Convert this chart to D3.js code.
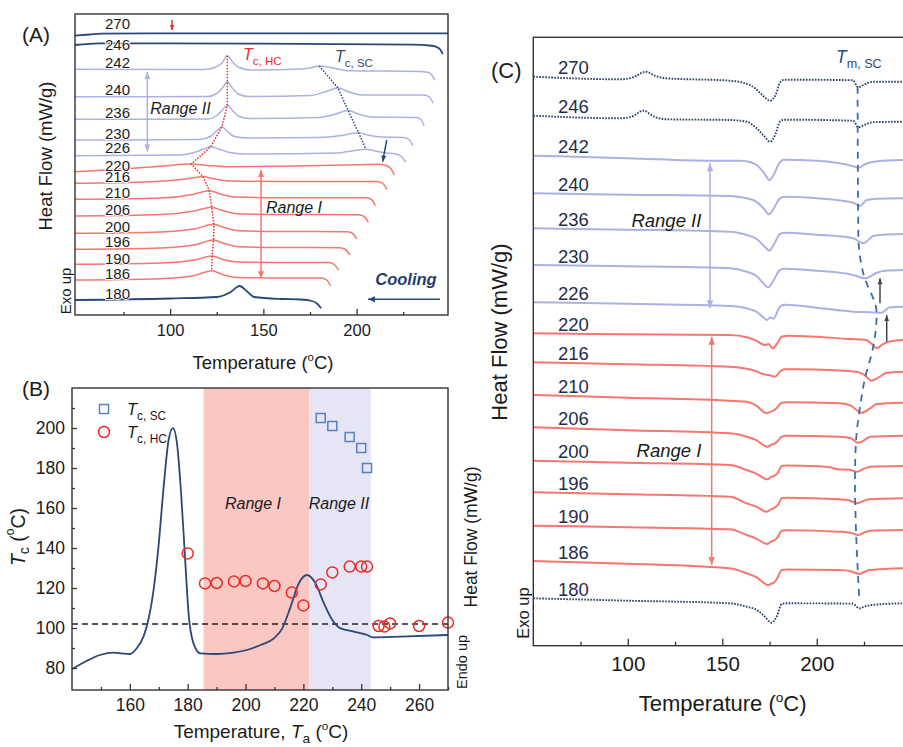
<!DOCTYPE html>
<html>
<head>
<meta charset="utf-8">
<script src="https://cdn.jsdelivr.net/npm/d3@7"></script>
<style>
  body { margin: 0; background: #fff; }
  svg text { font-family: "Liberation Sans", Arial, sans-serif; }
</style>
</head>
<body>
<svg id="fig" width="903" height="747"></svg>
<script>
"use strict";

// ---------- data: panel B (Tc vs annealing temperature) ----------
var taHC = [180, 186, 190, 196, 200, 206, 210, 216, 220, 226, 230, 236, 240, 242, 246, 248, 250, 260, 270];
var tcHC = [137.3, 122.3, 122.5, 123.3, 123.5, 122.3, 121, 117.7, 111.3, 121.8, 127.8, 130.7, 130.7, 130.7, 101, 100.7, 102.3, 101, 102.7];
var taSC = [226, 230, 236, 240, 242];
var tcSC = [205, 201, 195.5, 190, 180];
var rangeI = [185.5, 222];
var rangeII = [222, 243.3];
var tcRef = 102;
// heating trace drawn behind the points (Ta, value on the Tc axis)
var heatT = [140, 145, 149.7, 154.3, 157.2, 160.1, 162.4, 164.7, 166.4, 168.2, 169.9, 171.7, 173.4, 174.9, 176.3, 177.8, 179.2, 180.3, 182, 184.4, 190.2, 195.9, 200.5, 205.2, 209.8, 212.7, 215.6, 218.4, 221.3, 224.2, 227.1, 230, 232.9, 237.5, 242.1, 243.9, 253.7, 270];
var heatV = [79.4, 83.5, 86.5, 87.7, 87.3, 87, 89.9, 95.7, 104, 119, 140.7, 170.7, 194, 199.9, 192.3, 165.7, 132.3, 107.3, 92.3, 87.3, 87, 87.7, 89, 91.5, 94.8, 99.8, 110.7, 122.3, 126.5, 122.3, 112.3, 104, 99.8, 98.2, 96.5, 95.3, 95.7, 96.5];

// ---------- data: panel A (cooling scans, [T, heat flow a.u.]) ----------
var coolTa = [270, 246, 242, 240, 236, 230, 226, 220, 216, 210, 206, 200, 196, 190, 186, 180];
var coolCurves = [
  [[49,279.3],[57,280.5],[63,281.3],[100,281.7],[249,281.7]],
  [[49,270],[62,271.7],[150,271.3],[230,270.3],[239,269.5],[242.5,268.3],[244.8,265.5],[246.2,261]],
  [[49,245.7],[118,245.5],[124,247.5],[128,252.5],[130.7,259.3],[133.5,253],[137,247.5],[143,245],[170,246],[176,247.5],[180,249],[186,247.5],[196,244.3],[234,243.5],[238,242.8],[240.3,240],[241.8,235]],
  [[49,218.3],[120,218.5],[125,221.5],[128.5,228],[130.7,233.3],[133,228],[136.5,221],[142,218.5],[175,219.5],[183,223],[190,227],[196,223],[203,220],[236,220],[239,218],[241,212]],
  [[49,195.7],[120,196],[125,199.5],[128.5,206],[130.7,210],[133,205.5],[137,198.5],[143,196.5],[180,197.5],[188,200.5],[195.5,204.5],[201,201],[208,198],[232,197.5],[234.5,195.5],[236.2,189]],
  [[49,175],[116,175.5],[122,179],[125.5,185],[127.8,188.3],[130.5,184],[134.5,178.5],[142,177],[180,177.5],[192,179.5],[201,182.3],[207,179.5],[214,178],[225,177.5],[228,175.5],[230.2,169.3]],
  [[49,159.3],[105,160],[113,162.5],[118,166],[121.8,168.3],[126,166],[132,162.5],[140,161],[190,162],[199,164.5],[205,165.7],[210,164],[216,162],[221,161],[224,158.5],[226.3,152.7]],
  [[49,143.3],[80,146.7],[98,149.3],[111.3,151],[120,149.5],[130,148.3],[160,148.8],[200,150.2],[212,150.8],[216.5,149],[218.5,146],[220.2,140]],
  [[49,131.7],[90,133.3],[108,136],[117.7,138.3],[124,136],[132,134],[160,133.5],[211,133.5],[214,131.5],[216.3,125.7]],
  [[49,115.7],[95,117],[112,120.5],[121,124.3],[127,121],[135,118],[160,117.3],[205,117.3],[208,115.5],[210,109.3]],
  [[49,99],[95,100.5],[113,104],[122.3,107.7],[128,104.5],[136,101.3],[160,100.5],[201,100.3],[204,98.5],[206.3,92.7]],
  [[49,81.7],[95,83],[114,86.5],[123.5,90.7],[129,87.5],[137,84.3],[160,83.5],[195,83.3],[198,81.5],[200,76]],
  [[49,65.7],[95,67],[114,70.5],[123.3,75],[129,71.5],[137,68.3],[160,67.5],[191,67.3],[194,65.5],[196.4,60]],
  [[49,50.7],[95,52],[113,55],[122.5,59],[128,55.8],[136,53],[160,52.5],[185,52.5],[188,50.5],[190.2,45]],
  [[49,35],[95,36.3],[113,39.5],[122.3,44.3],[128,40.5],[136,37.5],[160,37],[181,37],[184,35],[186,29.3]],
  [[49,15],[100,16.5],[125,18],[132,22.5],[137.3,29],[141,24],[145,18],[160,16],[170,15.5],[176,14],[179,11],[181,6.7]]
];

// ---------- data: panel C (heating scans, [T, heat flow a.u.]) ----------
var heatTa = [270, 246, 242, 240, 236, 230, 226, 220, 216, 210, 206, 200, 196, 190, 186, 180];
var heatCurves = [
  [[50,569],[96,566.4],[103,568.5],[109.5,574],[115,569.5],[120.6,567.4],[154,565],[162,562.5],[167,558],[171,551],[175.4,545],[178.5,552],[180.5,563],[183,566],[219,565.5],[222,558.4],[225,561],[230,564],[246,564]],
  [[50,530],[96,527.4],[102,529],[108.2,535],[114,529],[120.6,526.4],[154,525.7],[162.9,524],[168.2,517.4],[172,510],[175.2,504],[178,511],[180.5,524],[183,526],[219.3,525],[222,518.4],[225,520.7],[230,523.5],[246,524]],
  [[50,490],[100,487.5],[145,485],[160,485],[165,483.5],[168.2,480.7],[172,473],[174.9,465.7],[177.5,472],[180,482],[182.5,486],[200,485],[219.3,479.5],[222,478],[226,482],[232,484.5],[246,485.7]],
  [[50,452.4],[100,451],[154,449.7],[162.9,447.4],[168,444],[172,437],[174.7,431.4],[177.5,438],[180.5,447.4],[183,449],[200,447.5],[219.3,443],[222.9,439.7],[226.4,445.7],[232,447],[246,447.4]],
  [[50,417.4],[100,416],[154,414],[162.9,410.7],[168,407],[172,400],[174.9,395],[177.5,402],[180.5,411.7],[183,413],[200,411],[219.3,407.4],[224.6,402.4],[229.9,409.7],[235,411],[246,411.7]],
  [[50,380.7],[100,379.5],[154,377.4],[162.9,374],[168,370],[171.5,363],[174.3,358.4],[177,365],[180.5,375.7],[183,377],[200,375],[219.3,370.7],[225.5,367.4],[231.7,373],[236,375],[246,375.7]],
  [[50,343.4],[100,342],[154,339.7],[162.9,337.4],[168,334],[172,328],[173.6,325.7],[175.3,328.5],[177,327],[180.5,339],[183,341],[200,338],[219.3,334],[228,333.5],[234.3,333],[238.6,338.4],[246,339]],
  [[50,312.4],[100,311.5],[154,310.7],[163,308.5],[168,305],[172.6,300.7],[174.4,301.7],[176.7,297.4],[179,302],[181.4,309],[185,310],[215,307],[226,305.7],[229,302],[231.7,297.4],[235,301.5],[238,304],[246,305.7]],
  [[50,283.4],[100,281.5],[154,279],[163,277],[168,274.5],[171.7,271.4],[175,270.5],[177.9,269],[180.5,274],[183,276.5],[189.4,276.4],[221.1,274],[225,271],[229,265],[233,268.5],[237,273],[246,274]],
  [[50,250.7],[100,248],[154,245],[162.9,244],[168,240],[173.5,232.4],[175.5,234],[177,235],[179,238],[181.4,243],[184,243.5],[212.3,242.4],[218,240],[223.8,233],[228,237],[231.7,241.7],[246,243]],
  [[50,218.4],[100,215.5],[154,212.4],[162.9,209],[168,205.5],[173.8,199],[176,201],[177.9,202.4],[179.5,205],[181.4,209],[184,210],[212,209],[218,207.5],[222,203],[226,206.5],[228.2,209],[246,210]],
  [[50,185],[100,183],[154,180.7],[162.9,175.7],[168,172],[173.8,166.4],[175.5,168.5],[177.3,169.7],[179.5,173],[181.4,179.7],[184,180.3],[200,179.5],[207,178.4],[211,176.5],[217,176],[221.4,174],[225,177],[228.2,179],[246,179.7]],
  [[50,153.4],[100,151.5],[154,149],[162.9,142.4],[168,139],[173.5,134],[175.5,136],[177,137.4],[179.5,141],[181.4,147.4],[184,148],[212,146.4],[217,145.5],[221.1,142.4],[225,145],[228.2,146.4],[246,147.4]],
  [[50,120],[100,118.5],[154,116.4],[162.9,110.7],[168,107],[173.8,101.7],[175.8,104],[177.9,105.7],[179.5,109],[181.4,115],[184,115.5],[212,114],[218,113],[222,110.7],[225.5,113.5],[228.2,115],[246,115.7]],
  [[50,84.7],[100,82],[154,77.4],[162.9,72.4],[168,68.5],[174.3,60.7],[176,62],[177.9,64],[179.5,69],[181.4,75.7],[184,76.3],[212,75.7],[218,74.5],[222.5,71.7],[226,74.5],[228.2,75.7],[246,77.4]],
  [[50,47.4],[100,45],[154,42.4],[162.9,39],[168,36],[172,30],[176.1,23],[179,30],[181.4,41.7],[184,42.4],[219,42],[222.5,37.4],[226,39.5],[229,40.7],[246,42.4]]
];
// Tm,SC guide through the small melting dips
var tmLine = [[221.6,559],[222,409],[224.6,372.4],[231.7,332.4],[229.9,299],[225.5,267.4],[222.9,239],[220.7,202.4],[220.2,165.7],[220.7,119],[222.5,47.4]];

// ---------- styles ----------
var NAVY = "#2b4878", LAV = "#adb0e3", SALMON = "#f7766e", RED = "#ec2a25", SQ = "#5b7fc0", INK = "#1b1b1b";

function traceColor(ta) {
  if (ta >= 246 || ta <= 180) return NAVY;
  if (ta >= 226) return LAV;
  return SALMON;
}

var svg = d3.select("#fig");
svg.append("rect").attr("width", 903).attr("height", 747).attr("fill", "#fff");

// text with italic / sub / sup pieces
function rich(sel, x, y, parts, size, anchor, fill) {
  var t = sel.append("text").attr("x", x).attr("y", y)
    .attr("font-size", size).attr("text-anchor", anchor || "start")
    .attr("fill", fill || INK);
  var shift = 0;
  parts.forEach(function(p) {
    var s = p[0], k = p[1];
    var target = 0, fs = size;
    if (k === "sub") { target = size * 0.3; fs = size * 0.72; }
    if (k === "sup") { target = -size * 0.42; fs = size * 0.62; }
    var ts = t.append("tspan").text(s).attr("font-size", fs);
    if (target - shift !== 0) ts.attr("dy", target - shift);
    if (k === "i") ts.attr("font-style", "italic");
    shift = target;
  });
  return t;
}

function rotated(sel, cx, cy, parts, size, fill) {
  var g = sel.append("g").attr("transform", "translate(" + cx + "," + cy + ") rotate(-90)");
  return rich(g, 0, 0, parts, size, "middle", fill).attr("dominant-baseline", "central");
}

function arrow(sel, x1, y1, x2, y2, color, both, len, wid) {
  len = len || 7; wid = wid || 3;
  sel.append("line").attr("x1", x1).attr("y1", y1).attr("x2", x2).attr("y2", y2)
    .attr("stroke", color).attr("stroke-width", 1.5);
  function head(xa, ya, xb, yb) {
    var a = Math.atan2(yb - ya, xb - xa);
    var bx = xb - len * Math.cos(a), by = yb - len * Math.sin(a);
    var pts = [[xb, yb],
      [bx + wid * Math.sin(a), by - wid * Math.cos(a)],
      [bx - wid * Math.sin(a), by + wid * Math.cos(a)]];
    sel.append("path").attr("d", "M" + pts.join("L") + "Z").attr("fill", color);
  }
  head(x1, y1, x2, y2);
  if (both) head(x2, y2, x1, y1);
}

function styleAxis(g, size) {
  g.attr("font-size", size).attr("font-family", null);
  g.select(".domain").remove();
  g.selectAll(".tick line").attr("stroke", "#333").attr("stroke-width", 1.3);
  g.selectAll(".tick text").attr("fill", INK);
}

// ================= Panel A =================
var xA = d3.scaleLinear().domain([49, 249]).range([75, 448]);
var yA = d3.scaleLinear().domain([0, 301]).range([315, 14]);
var gA = svg.append("g");
var lineA = d3.line().x(function(d) { return xA(d[0]); }).y(function(d) { return yA(d[1]); }).curve(d3.curveMonotoneX);

gA.selectAll(".coolA").data(coolCurves).enter().append("path")
  .attr("class", "coolA")
  .attr("d", lineA)
  .attr("fill", "none")
  .attr("stroke", function(d, i) { return traceColor(coolTa[i]); })
  .attr("stroke-width", function(d, i) { return traceColor(coolTa[i]) === NAVY ? 1.8 : 1.5; });

// Tc,HC and Tc,SC guides through the peaks
var hcPeaks = [], scPeaks = [];
coolCurves.forEach(function(c, i) {
  var ta = coolTa[i];
  if (ta > 180 && ta <= 242) hcPeaks.push(d3.greatest(c.filter(function(p) { return p[0] > 100 && p[0] < 140; }), function(p) { return p[1]; }));
  if (taSC.indexOf(ta) >= 0) scPeaks.push(d3.greatest(c.filter(function(p) { return p[0] > 170 && p[0] < 215; }), function(p) { return p[1]; }));
});
var guideA = d3.line().x(function(d) { return xA(d[0]); }).y(function(d) { return yA(d[1]); });
gA.append("path").attr("d", guideA(hcPeaks)).attr("fill", "none")
  .attr("stroke", RED).attr("stroke-width", 1.5).attr("stroke-dasharray", "1.5,1.5");
gA.append("path").attr("d", guideA(scPeaks)).attr("fill", "none")
  .attr("stroke", NAVY).attr("stroke-width", 1.5).attr("stroke-dasharray", "1.5,1.5");

// curve labels (white halo so the 246 trace breaks round its label)
var nudgeA = {270: -5, 246: 6, 226: -1.5, 220: 1, 196: -1, 190: 1};
gA.selectAll(".labA").data(coolTa).enter().append("text")
  .attr("x", 105)
  .attr("y", function(d, i) { return yA(coolCurves[i][0][1]) - 7 + (nudgeA[d] || 0); })
  .attr("dominant-baseline", "central")
  .attr("font-size", 15).attr("fill", INK)
  .attr("stroke", "#fff").attr("stroke-width", 2).attr("paint-order", "stroke")
  .text(function(d) { return d; });

// axes + frame
gA.append("g").attr("transform", "translate(0,315)")
  .call(d3.axisBottom(xA).tickValues([100, 150, 200]).tickSize(-6).tickPadding(9))
  .call(function(g) { styleAxis(g, 16.5); });
gA.append("g").attr("transform", "translate(0,315)")
  .call(d3.axisBottom(xA).tickValues([75, 125, 175, 225]).tickSize(-3).tickFormat(""))
  .call(function(g) { styleAxis(g, 10); });
gA.append("rect").attr("x", 75).attr("y", 14).attr("width", 373).attr("height", 301)
  .attr("fill", "none").attr("stroke", "#333").attr("stroke-width", 1.4);

rich(gA, 263, 369, [["Temperature ("], ["o", "sup"], ["C)"]], 18.5, "middle");
rotated(gA, 45, 156, [["Heat Flow (mW/g)"]], 18.5);
rotated(gA, 65, 291, [["Exo up"]], 15);
rich(gA, 22, 42, [["(A)"]], 21);

rich(gA, 243, 60, [["T", "i"], ["c, HC", "sub"]], 16, "start", RED);
rich(gA, 335, 62, [["T", "i"], ["c, SC", "sub"]], 16, "start", "#3b4a6b");
rich(gA, 180.5, 114, [["Range II", "i"]], 16, "middle");
rich(gA, 294, 213, [["Range I", "i"]], 16, "middle");
rich(gA, 406, 285, [["Cooling", "i"]], 16.5, "middle", "#1f3e6e").attr("font-weight", "bold");

arrow(gA, 172, 20, 172, 30, RED, false, 5, 2.2);
arrow(gA, 147.3, 72, 147.3, 151.5, LAV, true, 7, 3);
arrow(gA, 261, 170, 261, 278.3, SALMON, true, 7, 3);
arrow(gA, 386.7, 140, 382.7, 161.7, NAVY, false, 6, 2.5);
arrow(gA, 440, 299.3, 368, 299.3, NAVY, false, 7, 3);

// ================= Panel B =================
var xB = d3.scaleLinear().domain([140, 270]).range([72, 448]);
var yB = d3.scaleLinear().domain([69, 220]).range([690, 388]);
var gB = svg.append("g");

gB.append("rect").attr("x", xB(rangeI[0])).attr("y", 388)
  .attr("width", xB(rangeI[1]) - xB(rangeI[0])).attr("height", 302).attr("fill", "#fac7c3");
gB.append("rect").attr("x", xB(rangeII[0])).attr("y", 388)
  .attr("width", xB(rangeII[1]) - xB(rangeII[0])).attr("height", 302).attr("fill", "#e5e5f5");

gB.append("line").attr("x1", 72).attr("x2", 448).attr("y1", yB(tcRef)).attr("y2", yB(tcRef))
  .attr("stroke", "#222").attr("stroke-width", 1.4).attr("stroke-dasharray", "6,4");

var lineB = d3.line().x(function(d, i) { return xB(heatT[i]); }).y(function(d) { return yB(d); }).curve(d3.curveMonotoneX);
gB.append("path").attr("d", lineB(heatV)).attr("fill", "none").attr("stroke", NAVY).attr("stroke-width", 1.8);

gB.selectAll(".hc").data(taHC).enter().append("circle")
  .attr("cx", function(d) { return xB(d); })
  .attr("cy", function(d, i) { return yB(tcHC[i]); })
  .attr("r", 5.5).attr("fill", "none").attr("stroke", RED).attr("stroke-width", 1.5);
gB.selectAll(".sc").data(taSC).enter().append("rect")
  .attr("x", function(d) { return xB(d) - 4.5; })
  .attr("y", function(d, i) { return yB(tcSC[i]) - 4.5; })
  .attr("width", 9).attr("height", 9).attr("fill", "none").attr("stroke", SQ).attr("stroke-width", 1.5);

// legend
gB.append("rect").attr("x", 99.5).attr("y", 404.5).attr("width", 9).attr("height", 9)
  .attr("fill", "none").attr("stroke", SQ).attr("stroke-width", 1.5);
gB.append("circle").attr("cx", 104).attr("cy", 432).attr("r", 5.5)
  .attr("fill", "none").attr("stroke", RED).attr("stroke-width", 1.5);
rich(gB, 127, 415, [["T", "i"], ["c, SC", "sub"]], 16.5);
rich(gB, 127, 438, [["T", "i"], ["c, HC", "sub"]], 16.5);

rich(gB, 253, 509, [["Range I", "i"]], 16, "middle");
rich(gB, 339, 509, [["Range II", "i"]], 16, "middle");

gB.append("g").attr("transform", "translate(0,690)")
  .call(d3.axisBottom(xB).tickValues([160, 180, 200, 220, 240, 260]).tickSize(-6).tickPadding(9))
  .call(function(g) { styleAxis(g, 17.5); });
gB.append("g").attr("transform", "translate(0,690)")
  .call(d3.axisBottom(xB).tickValues([150, 170, 190, 210, 230, 250, 270]).tickSize(-3).tickFormat(""))
  .call(function(g) { styleAxis(g, 10); });
gB.append("g").attr("transform", "translate(72,0)")
  .call(d3.axisLeft(yB).tickValues([80, 100, 120, 140, 160, 180, 200]).tickSize(-5).tickPadding(7))
  .call(function(g) { styleAxis(g, 17.5); });
gB.append("g").attr("transform", "translate(72,0)")
  .call(d3.axisLeft(yB).tickValues([90, 110, 130, 150, 170, 190, 210]).tickSize(-3).tickFormat(""))
  .call(function(g) { styleAxis(g, 10); });
gB.append("rect").attr("x", 72).attr("y", 388).attr("width", 376).attr("height", 302)
  .attr("fill", "none").attr("stroke", "#333").attr("stroke-width", 1.4);

rich(gB, 261, 737.5, [["Temperature, "], ["T", "i"], ["a", "sub"], [" ("], ["o", "sup"], ["C)"]], 19, "middle");
rotated(gB, 18, 537, [["T", "i"], ["c", "sub"], [" ("], ["o", "sup"], ["C)"]], 19.5);
rotated(gB, 471, 537, [["Heat Flow (mW/g)"]], 17.5);
rotated(gB, 462, 662, [["Endo up"]], 14.5);
rich(gB, 22, 396, [["(B)"]], 21);

// ================= Panel C =================
var xC = d3.scaleLinear().domain([50, 246]).range([533.3, 903.7]);
var yC = d3.scaleLinear().domain([0, 608.4]).range([645.7, 37.3]);
var gC = svg.append("g");
var lineC = d3.line().x(function(d) { return xC(d[0]); }).y(function(d) { return yC(d[1]); }).curve(d3.curveMonotoneX);

gC.selectAll(".heatC").data(heatCurves).enter().append("path")
  .attr("class", "heatC")
  .attr("d", lineC)
  .attr("fill", "none")
  .attr("stroke", function(d, i) { return traceColor(heatTa[i]) === NAVY ? "#2a3f66" : traceColor(heatTa[i]); })
  .attr("stroke-width", function(d, i) { return traceColor(heatTa[i]) === NAVY ? 1.9 : 2; })
  .attr("stroke-dasharray", function(d, i) { return traceColor(heatTa[i]) === NAVY ? "1.6,1.4" : null; });

gC.append("path").attr("d", d3.line().x(function(d) { return xC(d[0]); }).y(function(d) { return yC(d[1]); }).curve(d3.curveMonotoneY)(tmLine))
  .attr("fill", "none").attr("stroke", "#3c6cb0").attr("stroke-width", 1.8).attr("stroke-dasharray", "7,6");

gC.selectAll(".labC").data(heatTa).enter().append("text")
  .attr("x", 558)
  .attr("y", function(d, i) { return yC(heatCurves[i][0][1]) - 9; })
  .attr("dominant-baseline", "central")
  .attr("font-size", 18.5).attr("fill", "#1f2d4d")
  .text(function(d) { return d; });

gC.append("g").attr("transform", "translate(0,645.7)")
  .call(d3.axisBottom(xC).tickValues([100, 150, 200]).tickSize(-7).tickPadding(11))
  .call(function(g) { styleAxis(g, 20.5); });
gC.append("g").attr("transform", "translate(0,645.7)")
  .call(d3.axisBottom(xC).tickValues([75, 125, 175, 225]).tickSize(-4).tickFormat(""))
  .call(function(g) { styleAxis(g, 10); });
gC.append("rect").attr("x", 533.3).attr("y", 37.3).attr("width", 380).attr("height", 608.4)
  .attr("fill", "none").attr("stroke", "#333").attr("stroke-width", 1.4);

rich(gC, 722.7, 711, [["Temperature ("], ["o", "sup"], ["C)"]], 22, "middle");
rotated(gC, 499, 332, [["Heat Flow (mW/g)"]], 22);
rotated(gC, 522.7, 613, [["Exo up"]], 16.5);
rich(gC, 491, 78, [["(C)"]], 22);

rich(gC, 836, 63, [["T", "i"], ["m, SC", "sub"]], 17.5, "start", "#2a4a80");
rich(gC, 666.4, 227, [["Range II", "i"]], 18.5, "middle");
rich(gC, 669, 457, [["Range I", "i"]], 18.5, "middle");

arrow(gC, 710, 163.3, 710, 308.3, LAV, true, 8, 3.2);
arrow(gC, 711.7, 336.7, 711.7, 565, SALMON, true, 8, 3.2);
arrow(gC, 880, 303.3, 880, 278.3, "#444", false, 6, 2.4);
arrow(gC, 886.7, 341.7, 886.7, 315, "#444", false, 6, 2.4);
</script>
</body>
</html>
